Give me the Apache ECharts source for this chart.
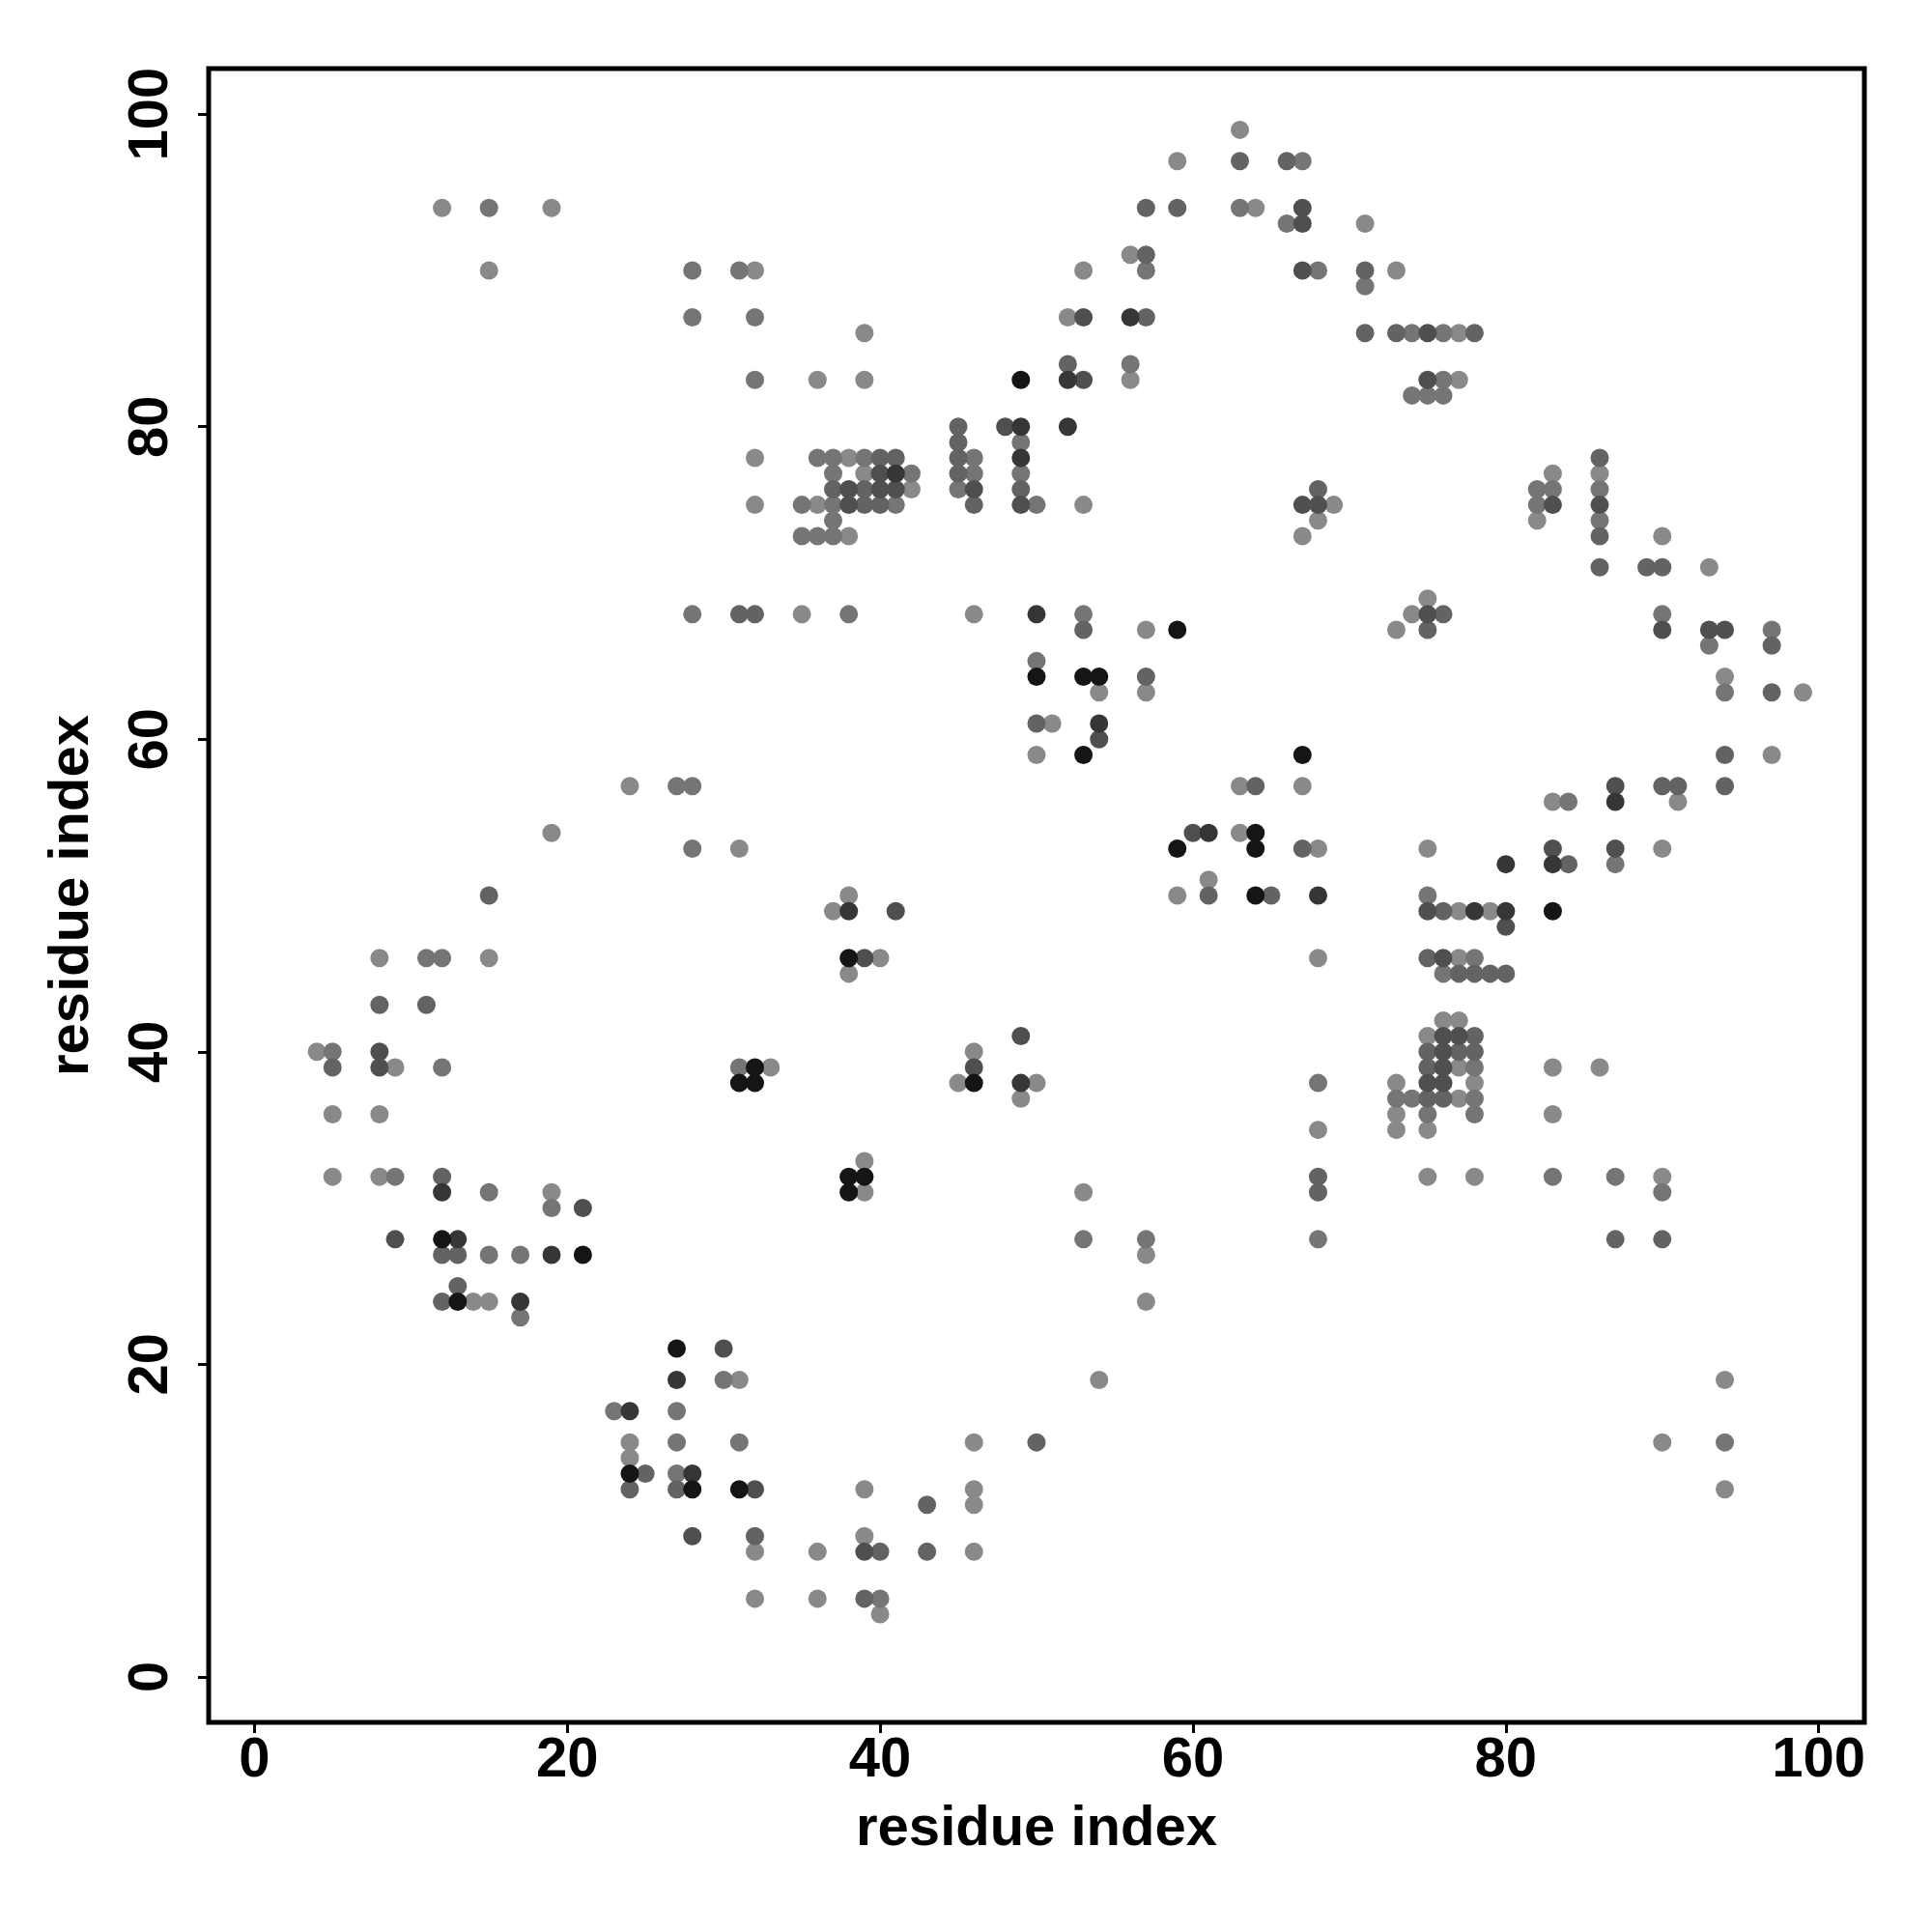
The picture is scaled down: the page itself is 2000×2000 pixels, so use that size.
<!DOCTYPE html>
<html>
<head>
<meta charset="utf-8">
<style>
  html, body { margin: 0; padding: 0; background: #fff; }
  #chart { width: 2000px; height: 2000px; }
</style>
<script src="https://cdn.jsdelivr.net/npm/echarts@6/dist/echarts.min.js"></script>
</head>
<body>
<div id="chart"></div>
<script>
// Contact points [residue i, residue j], grouped by shade level (1 = lightest, 6 = darkest)
const shade1 = [
  [63,99],[59,97],[12,94],[19,94],[64,94],[71,93],[56,91],[15,90],[32,90],[53,90],[73,90],
  [52,87],[39,86],[77,86],[36,83],[39,83],[56,83],[77,83],[32,78],[38,78],[39,77],[83,77],[86,77],
  [42,76],[32,75],[36,75],[53,75],[69,75],[68,74],[82,74],[38,73],[67,73],[90,73],[93,71],[75,69],
  [35,68],[46,68],[74,68],[57,67],[73,67],[94,64],[54,63],[57,63],[99,63],[51,61],[50,59],[97,59],
  [24,57],[63,57],[67,57],[83,56],[91,56],[19,54],[63,54],[31,53],[68,53],[75,53],[90,53],[61,51],
  [38,50],[59,50],[37,49],[77,49],[79,49],[8,46],[15,46],[40,46],[68,46],[77,46],[38,45],[76,42],
  [77,42],[75,41],[4,40],[46,40],[9,39],[33,39],[77,39],[83,39],[86,39],[45,38],[50,38],[73,38],
  [78,38],[49,37],[77,37],[5,36],[8,36],[73,36],[83,36],[68,35],[73,35],[75,35],[39,33],[5,32],
  [8,32],[75,32],[78,32],[90,32],[19,31],[39,31],[53,31],[57,27],[14,24],[15,24],[57,24],[31,19],
  [54,19],[94,19],[24,15],[46,15],[90,15],[24,14],[39,12],[46,12],[94,12],[46,11],[39,9],[32,8],
  [36,8],[46,8],[32,5],[36,5],[40,4]
];
const shade2 = [
  [67,97],[15,94],[63,94],[66,93],[28,90],[31,90],[57,90],[68,90],[71,89],[28,87],[32,87],[74,86],
  [76,86],[56,84],[32,83],[76,83],[74,82],[75,82],[76,82],[49,79],[36,78],[37,78],[39,78],[46,78],
  [37,77],[42,77],[46,77],[49,77],[45,76],[82,76],[83,76],[86,76],[35,75],[37,75],[41,75],[50,75],
  [82,75],[37,74],[86,74],[35,73],[36,73],[37,73],[28,68],[38,68],[53,68],[90,68],[97,67],[93,66],
  [50,65],[94,63],[27,57],[28,57],[84,56],[28,53],[87,52],[75,50],[11,46],[12,46],[78,46],[76,45],
  [5,40],[12,39],[31,39],[78,39],[68,38],[73,37],[74,37],[78,37],[75,36],[78,36],[9,32],[83,32],
  [87,32],[15,31],[90,31],[19,30],[53,28],[57,28],[68,28],[15,27],[17,27],[17,23],[30,19],[23,17],
  [27,17],[27,15],[31,15],[94,15],[27,13],[40,5]
];
const shade3 = [
  [63,97],[66,97],[57,94],[59,94],[57,91],[71,90],[57,87],[71,86],[73,86],[78,86],[52,84],[45,80],
  [45,79],[40,78],[41,78],[45,78],[86,78],[45,77],[37,76],[39,76],[49,76],[68,76],[39,75],[40,75],
  [46,75],[86,73],[86,71],[89,71],[90,71],[31,68],[32,68],[76,68],[53,67],[75,67],[97,66],[57,64],
  [97,63],[50,61],[94,59],[64,57],[90,57],[91,57],[94,57],[67,53],[84,52],[15,50],[61,50],[65,50],
  [76,49],[75,46],[77,45],[78,45],[79,45],[80,45],[8,43],[11,43],[78,41],[75,40],[77,40],[78,40],
  [5,39],[75,39],[75,37],[76,37],[12,32],[68,32],[68,31],[87,28],[90,28],[12,27],[13,27],[13,25],
  [12,24],[50,15],[25,13],[24,12],[27,12],[43,11],[32,9],[40,8],[43,8],[39,5]
];
const shade4 = [
  [67,94],[67,93],[67,90],[53,87],[75,86],[53,83],[75,83],[48,80],[40,77],[38,76],[40,76],[41,76],
  [46,76],[38,75],[49,75],[67,75],[68,75],[83,75],[86,75],[75,68],[90,67],[93,67],[94,67],[54,60],
  [87,57],[60,54],[83,53],[87,53],[41,49],[75,49],[80,48],[39,46],[76,46],[49,41],[76,41],[77,41],
  [8,40],[76,40],[8,39],[46,39],[76,39],[75,38],[76,38],[21,30],[9,28],[30,21],[32,12],[28,9],[39,8]
];
const shade5 = [
  [56,87],[52,83],[49,80],[52,80],[49,78],[41,77],[50,68],[54,61],[87,56],[61,54],[80,52],[83,52],
  [68,50],[38,49],[78,49],[80,49],[49,38],[12,31],[13,28],[19,27],[17,24],[27,19],[24,17],[28,13]
];
const shade6 = [
  [49,83],[59,67],[50,64],[53,64],[54,64],[53,59],[67,59],[64,54],[59,53],[64,53],[64,50],[83,49],
  [38,46],[32,39],[31,38],[32,38],[46,38],[38,32],[39,32],[38,31],[12,28],[21,27],[13,24],[27,21],
  [24,13],[28,12],[31,12]
];
const shadeColors = ['#898989', '#757575', '#636363', '#4f4f4f', '#363636', '#151515'];
const tickValues = [0, 20, 40, 60, 80, 100];
const axisTitle = 'residue index';

const groups = [shade1, shade2, shade3, shade4, shade5, shade6];
const font = 'Liberation Sans, Arial, Helvetica, sans-serif';

const chart = echarts.init(document.getElementById('chart'), null, { renderer: 'canvas' });
const option = {
  animation: false,
  backgroundColor: '#ffffff',
  grid: {
    left: 216, top: 71, width: 1714, height: 1712,
    show: true, borderColor: '#000', borderWidth: 5, backgroundColor: 'transparent'
  },
  xAxis: {
    type: 'value', min: -2.92, max: 102.92, position: 'bottom',
    axisLine: { show: false, onZero: false },
    splitLine: { show: false },
    axisTick: { show: true, inside: false, length: 11, lineStyle: { color: '#000', width: 3 }, customValues: tickValues },
    axisLabel: { customValues: tickValues, fontSize: 58, fontWeight: 'bold', color: '#000', fontFamily: font, margin: 11 },
    name: axisTitle, nameLocation: 'middle', nameGap: 82,
    nameTextStyle: { fontSize: 58, fontWeight: 'bold', color: '#000', fontFamily: font }
  },
  yAxis: {
    type: 'value', min: -2.92, max: 102.92, position: 'left',
    axisLine: { show: false, onZero: false },
    splitLine: { show: false },
    axisTick: { show: true, inside: false, length: 11, lineStyle: { color: '#000', width: 3 }, customValues: tickValues },
    axisLabel: { customValues: tickValues, rotate: 90, fontSize: 58, fontWeight: 'bold', color: '#000', fontFamily: font, margin: 30 },
    name: axisTitle, nameLocation: 'middle', nameGap: 112, nameRotate: 90,
    nameTextStyle: { fontSize: 58, fontWeight: 'bold', color: '#000', fontFamily: font }
  },
  series: groups.map((pts, i) => ({
    type: 'scatter',
    data: pts,
    symbol: 'circle',
    symbolSize: 19,
    itemStyle: { color: shadeColors[i], opacity: 1 },
    z: 2 + i,
    silent: true
  }))
};
chart.setOption(option);
</script>
</body>
</html>
